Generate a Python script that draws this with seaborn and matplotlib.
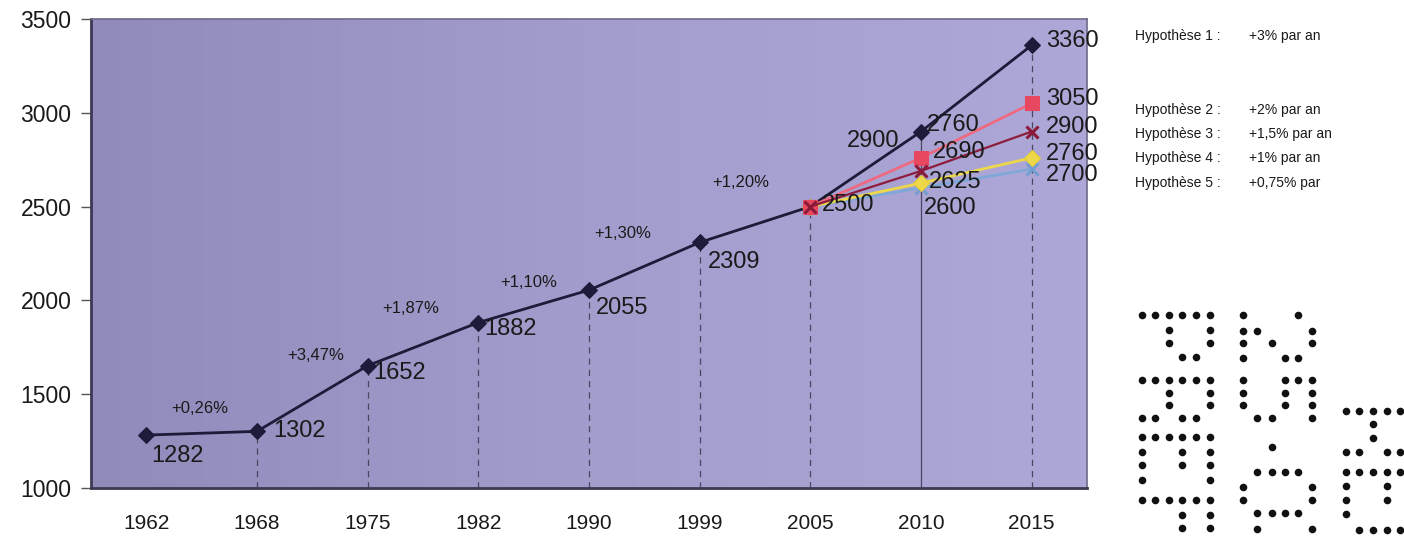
import numpy as np
import matplotlib
matplotlib.use("Agg")
import matplotlib.pyplot as plt
from matplotlib.colors import LinearSegmentedColormap
import seaborn as sns

# ---------------- data ----------------
years = ["1962", "1968", "1975", "1982", "1990", "1999", "2005", "2010", "2015"]
population = [1282, 1302, 1652, 1882, 2055, 2309, 2500]          # 1962 -> 2005
growth_labels = ["+0,26%", "+3,47%", "+1,87%", "+1,10%", "+1,30%", "+1,20%"]
proj_years = ["2005", "2010", "2015"]
hyp1 = [2500, 2900, 3360]
hyp2 = [2500, 2760, 3050]
hyp3 = [2500, 2690, 2900]
hyp4 = [2500, 2625, 2760]
hyp5 = [2500, 2600, 2700]
hyp_names = ["Hypothèse 1 :", "Hypothèse 2 :", "Hypothèse 3 :", "Hypothèse 4 :", "Hypothèse 5 :"]
hyp_rates = ["+3% par an", "+2% par an", "+1,5% par an", "+1% par an", "+0,75% par"]

# ---------------- style ----------------
sns.set_style("white")
plt.rcParams["font.family"] = ["Liberation Sans", "DejaVu Sans"]

W, H = 1404, 538
fig = plt.figure(figsize=(W / 100, H / 100), dpi=100)
L, R, T, B = 91, 1087, 19, 488
ax = fig.add_axes([L / W, 1 - B / H, (R - L) / W, (B - T) / H])

# background gradient of the plot area
cmap = LinearSegmentedColormap.from_list("bg", ["#908bba", "#a29dcc", "#aea8d8"])
ax.imshow(np.linspace(0, 1, 256).reshape(1, -1), cmap=cmap, aspect="auto",
          extent=[0, 1, 0, 1], transform=ax.transAxes, zorder=0)

pos = {y: i for i, y in enumerate(years)}
xmain = [pos[y] for y in years]
main_vals = population + hyp1[1:]
xproj = [pos[y] for y in proj_years]

# drop lines
for i in range(1, len(years)):
    ls = "-" if years[i] == "2010" else (0, (5, 4))
    ax.plot([xmain[i], xmain[i]], [1000, main_vals[i]], color="#4a4660",
            lw=0.9, ls=ls, zorder=1)

# main line (historic + hypothesis 1)
sns.lineplot(x=xmain, y=main_vals, ax=ax, color="#1c1b3a", lw=2.0,
             marker="D", markersize=8.5, markeredgecolor="#1c1b3a", zorder=5)

# hypotheses
sns.lineplot(x=xproj, y=hyp5, ax=ax, color="#7ea8d8", lw=2.0, marker="x",
             markersize=9, markeredgewidth=2, markeredgecolor="#6f9ed2", zorder=6)
sns.lineplot(x=xproj, y=hyp4, ax=ax, color="#ecd84a", lw=2.0, marker="D",
             markersize=8, markeredgecolor="#e8cf2c", zorder=6)
sns.lineplot(x=xproj, y=hyp2, ax=ax, color="#ee6a80", lw=2.0, marker="s",
             markersize=9.5, markerfacecolor="#e8485f", markeredgecolor="#e8485f", zorder=7)
sns.lineplot(x=xproj, y=hyp3, ax=ax, color="#8e1c3e", lw=1.6, marker="x",
             markersize=9, markeredgewidth=2.2, markeredgecolor="#8a1a3a", zorder=8)

# data labels
lbl = dict(fontsize=17, color="#1a1a1a", zorder=10, textcoords="offset pixels")
main_offsets = [(5, -21, "left"), (16, 0, "left"), (6, -7, "left"), (6, -6, "left"),
                (7, -18, "left"), (8, -20, "left"), (12, 2, "left"),
                (-22, -9, "right"), (14, 4, "left")]
for i, v in enumerate(main_vals):
    dx, dy, ha = main_offsets[i]
    ax.annotate(str(v), (xmain[i], v), xytext=(dx, dy), ha=ha, va="center", **lbl)

proj_offsets = {
    "h2": [(6, 33), (14, 4)],
    "h3": [(12, 19), (14, 5)],
    "h4": [(8, 1), (14, 4)],
    "h5": [(3, -20), (14, -6)],
}
for key, series in (("h2", hyp2), ("h3", hyp3), ("h4", hyp4), ("h5", hyp5)):
    for j in (1, 2):
        dx, dy = proj_offsets[key][j - 1]
        ax.annotate(str(series[j]), (xproj[j], series[j]), xytext=(dx, dy),
                    ha="left", va="center", **lbl)

# growth-rate labels between points
g_offsets = [(-2, 25), (3, 43), (-12, 36), (-5, 24), (-22, 33), (-14, 42)]
for i, g in enumerate(growth_labels):
    xm = (xmain[i] + xmain[i + 1]) / 2
    ym = (main_vals[i] + main_vals[i + 1]) / 2
    ax.annotate(g, (xm, ym), xytext=g_offsets[i], textcoords="offset pixels",
                ha="center", va="center", fontsize=12, color="#1a1a1a", zorder=10)

# axes
ax.set_xlim(-0.5, 8.5)
ax.set_ylim(1000, 3500)
ax.set_yticks([1000, 1500, 2000, 2500, 3000, 3500])
ax.set_xticks(xmain)
ax.set_xticklabels(years)
ax.tick_params(axis="y", length=7, width=1, color="#555", pad=7, labelsize=16.5,
               left=True, labelcolor="#1a1a1a")
ax.tick_params(axis="x", length=0, pad=19, labelsize=15, labelcolor="#1a1a1a")
ax.set_xlabel("")
ax.set_ylabel("")
for side in ("left", "bottom"):
    ax.spines[side].set_color("#3c3952")
    ax.spines[side].set_linewidth(2)
for side in ("top", "right"):
    ax.spines[side].set_color("#6e6a8a")
    ax.spines[side].set_linewidth(1.2)

# ---------------- right-hand side: legend text and dot logo ----------------
deco = fig.add_axes([0, 0, 1, 1], zorder=-1)
deco.set_xlim(0, W)
deco.set_ylim(H, 0)
deco.axis("off")

for name, rate, yy in zip(hyp_names, hyp_rates, [36, 110, 134, 158, 183]):
    deco.text(1135, yy, name, fontsize=10, va="center", ha="left", color="#1a1a1a")
    deco.text(1249, yy, rate, fontsize=10, va="center", ha="left", color="#1a1a1a")

blocks = [
    ([1142, 1155, 1169, 1182, 1196, 1210],
     [315, 330, 343, 357, 380, 393, 405, 418, 437, 452, 465, 480, 500, 515, 528],
     ["111111", "001001", "001001", "000110", "111111", "001001", "001001", "110110",
      "111111", "100101", "100101", "100001", "111111", "000101", "000101"]),
    ([1243, 1257, 1272, 1285, 1298, 1312],
     [315, 331, 343, 358, 380, 393, 405, 418, 447, 472, 487, 500, 513, 529],
     ["100010", "110001", "101001", "100110", "100111", "100101", "100101", "011001",
      "001000", "011110", "100001", "100001", "011110", "010001"]),
    ([1346, 1359, 1373, 1387, 1400],
     [411, 424, 438, 452, 472, 486, 500, 514, 530],
     ["11111", "00100", "00100", "11011", "11111", "10010", "10010", "10000", "01111"]),
]
px, py = [], []
for cols, rows, pat in blocks:
    for yy, row in zip(rows, pat):
        for xx, c in zip(cols, row):
            if c == "1":
                px.append(xx)
                py.append(yy)
deco.scatter(px, py, s=30, color="#111111", linewidths=0)

fig.savefig("out.png", dpi=100)
